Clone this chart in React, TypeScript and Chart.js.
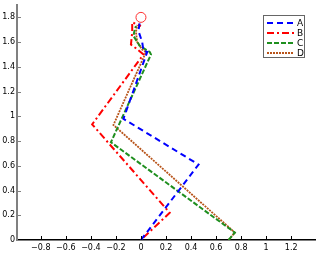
import React, { useEffect, useRef } from "react";
import { Chart, registerables } from "chart.js";

Chart.register(...registerables);

const seriesLabels = ["A", "B", "C", "D"];
const seriesColors = ["#0000ff", "#ff0000", "#1f8f1f", "#b8541a"];
const seriesDashes = [[6, 4], [7, 3, 2, 3], [5, 2], [2, 1]];
const seriesWidths = [2, 2, 2, 1.8];

const A_x = [0.0, 0.46, -0.14, 0.05, 0.02, 0.01, -0.02, -0.01];
const A_y = [0.0, 0.61, 0.98, 1.52, 1.53, 1.6, 1.69, 1.76];
const B_x = [0.02, 0.23, -0.39, 0.02, -0.04, -0.08, -0.07, -0.07, 0.0];
const B_y = [0.02, 0.22, 0.935, 1.5, 1.55, 1.58, 1.68, 1.76, 1.73];
const C_x = [0.7, 0.75, -0.24, 0.08, 0.07, -0.01, -0.06, -0.05, -0.04];
const C_y = [0.0, 0.06, 0.79, 1.5, 1.52, 1.57, 1.65, 1.7, 1.73];
const D_x = [0.7, 0.75, -0.22, 0.04, 0.01, -0.03, -0.04, -0.03];
const D_y = [0.0, 0.06, 0.93, 1.52, 1.54, 1.6, 1.68, 1.74];

const marker_x = [0.0];
const marker_y = [1.8];

const xTicks = [-0.8, -0.6, -0.4, -0.2, 0, 0.2, 0.4, 0.6, 0.8, 1, 1.2];
const yTicks = [0, 0.2, 0.4, 0.6, 0.8, 1, 1.2, 1.4, 1.6, 1.8];

const X_MIN = -0.99;
const X_MAX = 1.39;
const Y_MIN = 0;
const Y_MAX = 1.9;

const FONT = "DejaVu Sans";

function zip(xs: number[], ys: number[]) {
  return xs.map((x, i) => ({ x, y: ys[i] }));
}

function fmt(v: number) {
  const r = Math.round(v * 10) / 10;
  const s = String(Math.abs(r));
  return r < 0 ? "\u2212" + s : s;
}

const innerTicks = {
  id: "innerTicks",
  afterDraw(chart: any) {
    const ctx = chart.ctx;
    const xs = chart.scales.x;
    const ys = chart.scales.y;
    const area = chart.chartArea;
    ctx.save();
    ctx.lineWidth = 1;
    ctx.strokeStyle = "#000";
    xTicks.forEach((v) => {
      const px = Math.round(xs.getPixelForValue(v)) + 0.5;
      ctx.beginPath();
      ctx.moveTo(px, area.bottom);
      ctx.lineTo(px, area.bottom - 4);
      ctx.stroke();
    });
    ctx.strokeStyle = "#808080";
    yTicks.forEach((v) => {
      const py = Math.round(ys.getPixelForValue(v)) + 0.5;
      ctx.beginPath();
      ctx.moveTo(area.left, py);
      ctx.lineTo(area.left + 4, py);
      ctx.stroke();
    });
    ctx.restore();
  },
};

const boxLegend = {
  id: "boxLegend",
  afterDraw(chart: any) {
    const ctx = chart.ctx;
    const area = chart.chartArea;
    const right = area.right - 11;
    const left = right - 41;
    const top = area.top + 10;
    const bottom = top + 42;
    ctx.save();
    ctx.fillStyle = "#fff";
    ctx.fillRect(left, top, right - left, bottom - top);
    ctx.strokeStyle = "#666";
    ctx.lineWidth = 1;
    ctx.strokeRect(left + 0.5, top + 0.5, right - left, bottom - top);
    seriesLabels.forEach((lab, i) => {
      const y = top + 8 + i * 10;
      ctx.beginPath();
      ctx.setLineDash(seriesDashes[i]);
      ctx.strokeStyle = seriesColors[i];
      ctx.lineWidth = seriesWidths[i];
      ctx.moveTo(left + 4, y);
      ctx.lineTo(left + 31, y);
      ctx.stroke();
      ctx.setLineDash([]);
      ctx.fillStyle = "#000";
      ctx.font = `9px "${FONT}"`;
      ctx.textBaseline = "middle";
      ctx.textAlign = "left";
      ctx.fillText(lab, left + 34, y + 0.5);
    });
    ctx.restore();
  },
};

export default function App() {
  const ref = useRef<HTMLCanvasElement | null>(null);
  useEffect(() => {
    const canvas = ref.current;
    if (!canvas) return;
    const xsArr = [A_x, B_x, C_x, D_x];
    const ysArr = [A_y, B_y, C_y, D_y];
    const datasets: any[] = seriesLabels.map((lab, i) => ({
      label: lab,
      data: zip(xsArr[i], ysArr[i]),
      showLine: true,
      borderColor: seriesColors[i],
      backgroundColor: seriesColors[i],
      borderWidth: seriesWidths[i],
      borderDash: seriesDashes[i],
      pointRadius: 0,
      pointHoverRadius: 0,
      tension: 0,
      fill: false,
    }));
    datasets.push({
      label: "marker",
      data: zip(marker_x, marker_y),
      showLine: false,
      pointRadius: 5,
      pointHoverRadius: 5,
      pointBorderColor: "#ff3030",
      pointBackgroundColor: "rgba(0,0,0,0)",
      pointBorderWidth: 1,
    });
    const chart = new Chart(canvas, {
      type: "scatter",
      data: { datasets },
      options: {
        animation: false,
        responsive: false,
        layout: { autoPadding: false, padding: { top: 5, right: 1, left: 0, bottom: 0 } },
        plugins: {
          legend: { display: false },
          tooltip: { enabled: false },
        },
        scales: {
          x: {
            type: "linear",
            min: X_MIN,
            max: X_MAX,
            afterBuildTicks: (s: any) => {
              s.ticks = xTicks.map((v) => ({ value: v }));
            },
            afterFit: (s: any) => {
              s.height = 16;
              s.paddingLeft = 0;
              s.paddingRight = 0;
            },
            grid: { display: false, drawTicks: false },
            border: { display: true, color: "#000", width: 1.5 },
            ticks: {
              padding: 3,
              color: "#000",
              font: { family: FONT, size: 8 },
              maxRotation: 0,
              autoSkip: false,
              callback: (v: any) => fmt(Number(v)),
            },
          },
          y: {
            type: "linear",
            min: Y_MIN,
            max: Y_MAX,
            afterBuildTicks: (s: any) => {
              s.ticks = yTicks.map((v) => ({ value: v }));
            },
            afterFit: (s: any) => {
              s.width = 17;
              s.paddingTop = 0;
              s.paddingBottom = 0;
            },
            grid: { display: false, drawTicks: false },
            border: { display: true, color: "#808080", width: 2 },
            ticks: {
              padding: 2,
              color: "#000",
              font: { family: FONT, size: 8 },
              autoSkip: false,
              callback: (v: any) => fmt(Number(v)),
            },
          },
        },
      },
      plugins: [innerTicks, boxLegend],
    });
    return () => chart.destroy();
  }, []);
  return (
    <div style={{ position: "absolute", left: 0, top: 0, width: 316, height: 256, background: "#fff" }}>
      <canvas ref={ref} width={316} height={256} style={{ display: "block" }} />
    </div>
  );
}
